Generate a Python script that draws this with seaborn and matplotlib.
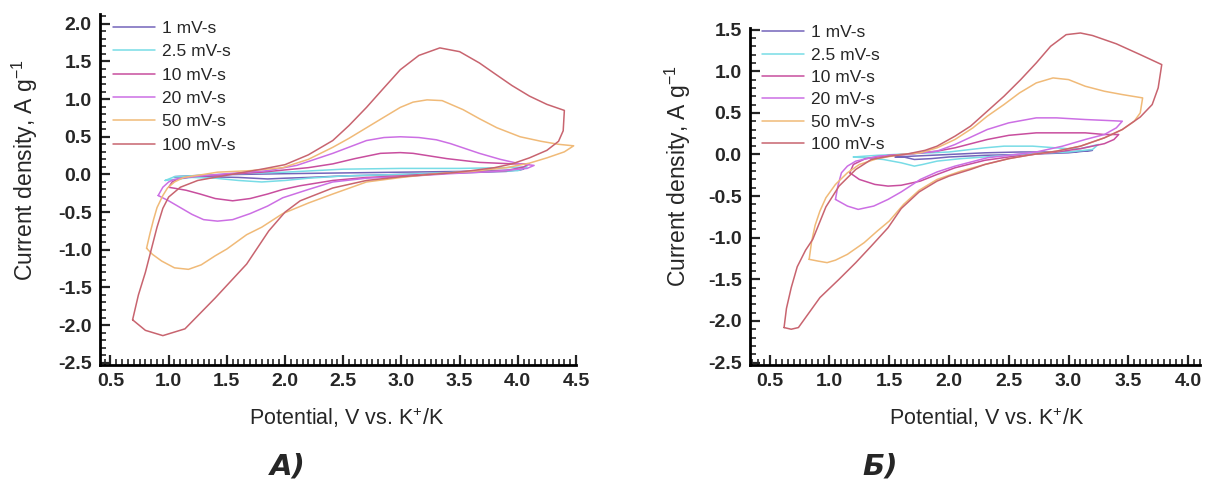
import numpy as np
import pandas as pd
import matplotlib
matplotlib.use("Agg")
import matplotlib.pyplot as plt
from matplotlib.ticker import MultipleLocator, FormatStrFormatter
import seaborn as sns

# ---------------- data ----------------
rates = ["1 mV-s", "2.5 mV-s", "10 mV-s", "20 mV-s", "50 mV-s", "100 mV-s"]
colors = ["#7464BA", "#78DCE6", "#C84E9E", "#CC6FE4", "#F0BA78", "#C8646F"]

# Panel A
A_1_x = [1.05, 1.3, 1.6, 2.0, 2.5, 3.0, 3.5, 4.0, 4.05, 3.9, 3.5, 3.0, 2.5, 2.2, 2.0, 1.85, 1.6, 1.3, 1.05]
A_1_y = [-0.03, -0.01, 0.0, 0.01, 0.02, 0.03, 0.04, 0.06, 0.07, 0.04, 0.02, 0.0, -0.02, -0.04, -0.05, -0.06, -0.04, -0.03, -0.03]
A_25_x = [0.97, 1.05, 1.3, 1.6, 2.0, 2.5, 3.0, 3.5, 3.9, 4.08, 4.0, 3.5, 3.0, 2.5, 2.2, 2.0, 1.8, 1.6, 1.4, 1.2, 0.97]
A_25_y = [-0.08, -0.03, -0.01, 0.01, 0.03, 0.07, 0.08, 0.08, 0.09, 0.1, 0.05, 0.03, 0.0, -0.02, -0.05, -0.08, -0.1, -0.08, -0.05, -0.04, -0.08]
A_10_x = [1.0, 1.03, 1.08, 1.2, 1.5, 1.8, 2.0, 2.2, 2.41, 2.6, 2.82, 2.99, 3.1, 3.39, 3.67, 3.96, 4.1,
          4.05, 3.9, 3.42, 2.99, 2.7, 2.41, 2.13, 1.98, 1.85, 1.7, 1.55, 1.4, 1.27, 1.15, 1.0]
A_10_y = [-0.17, -0.1, -0.06, -0.03, 0.0, 0.03, 0.06, 0.09, 0.14, 0.21, 0.28, 0.29, 0.28, 0.21, 0.16, 0.14, 0.14,
          0.1, 0.05, 0.02, -0.02, -0.04, -0.08, -0.15, -0.2, -0.26, -0.32, -0.35, -0.32, -0.26, -0.21, -0.17]
A_20_x = [0.91, 0.95, 1.0, 1.04, 1.15, 1.27, 1.5, 1.85, 2.1, 2.41, 2.7, 2.85, 2.99, 3.15, 3.3, 3.42, 3.67, 3.85, 4.02, 4.14,
          4.08, 3.8, 3.42, 3.0, 2.7, 2.41, 2.2, 1.98, 1.85, 1.7, 1.55, 1.42, 1.3, 1.2, 1.1, 1.0, 0.91]
A_20_y = [-0.28, -0.17, -0.1, -0.07, -0.04, -0.02, 0.01, 0.05, 0.12, 0.28, 0.45, 0.49, 0.5, 0.49, 0.46, 0.41, 0.28, 0.2, 0.14, 0.12,
          0.08, 0.04, 0.01, -0.03, -0.05, -0.1, -0.2, -0.31, -0.42, -0.52, -0.6, -0.62, -0.6, -0.53, -0.44, -0.35, -0.28]
A_50_x = [0.81, 0.84, 0.87, 0.9, 0.95, 0.99, 1.05, 1.13, 1.3, 1.42, 1.7, 1.98, 2.2, 2.41, 2.55, 2.7, 2.85, 2.99, 3.1, 3.22, 3.35,
          3.53, 3.67, 3.82, 4.02, 4.2, 4.35, 4.48,
          4.4, 4.25, 4.1, 3.9, 3.6, 3.3, 3.0, 2.7, 2.41, 2.2, 1.98, 1.8, 1.67, 1.5, 1.4, 1.28, 1.17, 1.05, 0.94, 0.86, 0.81]
A_50_y = [-0.98, -0.78, -0.6, -0.44, -0.28, -0.18, -0.1, -0.04, 0.0, 0.03, 0.05, 0.09, 0.2, 0.36, 0.48, 0.62, 0.76, 0.89, 0.96, 0.99, 0.98,
          0.86, 0.74, 0.62, 0.5, 0.44, 0.4, 0.38,
          0.3, 0.22, 0.15, 0.09, 0.04, 0.01, -0.04, -0.1, -0.26, -0.38, -0.52, -0.7, -0.8, -0.99, -1.08, -1.2, -1.26, -1.24, -1.15, -1.06, -0.98]
A_100_x = [0.69, 0.74, 0.8, 0.85, 0.9, 0.95, 1.0, 1.1, 1.25, 1.5, 1.8, 2.0, 2.2, 2.41, 2.55, 2.7, 2.85, 2.99, 3.15, 3.33, 3.5, 3.67,
           3.8, 3.95, 4.1, 4.25, 4.4,
           4.39, 4.35, 4.25, 4.1, 3.95, 3.8, 3.6, 3.42, 3.0, 2.7, 2.41, 2.13, 2.0, 1.86, 1.67, 1.4, 1.14, 0.95, 0.8, 0.69]
A_100_y = [-1.93, -1.6, -1.3, -1.0, -0.7, -0.45, -0.3, -0.17, -0.08, -0.01, 0.07, 0.13, 0.26, 0.45, 0.65, 0.89, 1.15, 1.39, 1.58, 1.68, 1.63, 1.48,
           1.34, 1.18, 1.04, 0.93, 0.85,
           0.58, 0.44, 0.32, 0.22, 0.14, 0.09, 0.05, 0.02, -0.03, -0.08, -0.18, -0.35, -0.5, -0.75, -1.19, -1.64, -2.05, -2.14, -2.07, -1.93]

# Panel B
B_1_x = [1.55, 1.7, 2.0, 2.3, 2.6, 3.0, 3.2, 3.0, 2.6, 2.3, 2.0, 1.85, 1.71, 1.62, 1.55]
B_1_y = [-0.03, -0.02, 0.0, 0.02, 0.03, 0.03, 0.05, 0.02, 0.0, -0.01, -0.03, -0.05, -0.06, -0.03, -0.03]
B_25_x = [1.2, 1.4, 1.7, 2.0, 2.3, 2.46, 2.7, 2.99, 3.1, 3.25, 3.2, 3.0, 2.7, 2.4, 2.1, 1.9, 1.78, 1.71, 1.6, 1.45, 1.3, 1.2]
B_25_y = [-0.03, -0.01, 0.01, 0.03, 0.08, 0.1, 0.1, 0.07, 0.07, 0.12, 0.06, 0.03, 0.01, -0.02, -0.05, -0.08, -0.12, -0.14, -0.1, -0.06, -0.04, -0.03]
B_10_x = [1.17, 1.2, 1.3, 1.5, 1.7, 1.9, 2.05, 2.32, 2.5, 2.73, 3.0, 3.14, 3.3, 3.42,
          3.38, 3.3, 3.1, 2.9, 2.7, 2.5, 2.3, 2.05, 1.9, 1.76, 1.6, 1.49, 1.38, 1.25, 1.17]
B_10_y = [-0.22, -0.12, -0.05, -0.01, 0.01, 0.04, 0.08, 0.18, 0.23, 0.26, 0.26, 0.26, 0.24, 0.24,
          0.18, 0.13, 0.07, 0.03, 0.0, -0.03, -0.07, -0.16, -0.24, -0.32, -0.37, -0.38, -0.36, -0.3, -0.22]
B_20_x = [1.05, 1.07, 1.1, 1.15, 1.22, 1.41, 1.63, 1.9, 2.05, 2.2, 2.32, 2.5, 2.73, 2.9, 3.14, 3.3, 3.45,
          3.4, 3.3, 3.14, 2.95, 2.73, 2.5, 2.32, 2.05, 1.9, 1.76, 1.6, 1.49, 1.37, 1.24, 1.15, 1.05]
B_20_y = [-0.54, -0.38, -0.22, -0.14, -0.08, -0.02, 0.0, 0.04, 0.12, 0.22, 0.3, 0.38, 0.44, 0.44, 0.42, 0.41, 0.4,
          0.32, 0.24, 0.18, 0.1, 0.03, -0.01, -0.04, -0.14, -0.21, -0.3, -0.45, -0.54, -0.62, -0.66, -0.62, -0.54]
B_50_x = [0.83, 0.85, 0.88, 0.92, 0.97, 1.05, 1.15, 1.25, 1.4, 1.6, 1.76, 1.9, 2.05, 2.2, 2.32, 2.46, 2.59, 2.73, 2.87, 3.0,
          3.14, 3.3, 3.45, 3.62,
          3.6, 3.55, 3.45, 3.3, 3.1, 2.9, 2.7, 2.5, 2.3, 2.1, 1.9, 1.75, 1.62, 1.5, 1.4, 1.29, 1.15, 1.05, 0.98, 0.9, 0.83]
B_50_y = [-1.26, -1.05, -0.85, -0.68, -0.52, -0.36, -0.22, -0.12, -0.05, 0.0, 0.02, 0.08, 0.18, 0.32, 0.46, 0.6, 0.74, 0.86, 0.92, 0.9,
          0.82, 0.76, 0.72, 0.68,
          0.5, 0.4, 0.3, 0.2, 0.1, 0.04, 0.0, -0.05, -0.12, -0.2, -0.3, -0.43, -0.6, -0.8, -0.92, -1.06, -1.2, -1.27, -1.3, -1.28, -1.26]
B_100_x = [0.62, 0.64, 0.68, 0.73, 0.8, 0.86, 0.97, 1.08, 1.22, 1.35, 1.5, 1.63, 1.8, 1.9, 2.05, 2.18, 2.32, 2.46, 2.6, 2.73,
           2.85, 2.98, 3.1, 3.2, 3.4, 3.6, 3.78,
           3.75, 3.7, 3.6, 3.45, 3.3, 3.1, 2.9, 2.7, 2.5, 2.3, 2.18, 2.0, 1.9, 1.75, 1.6, 1.49, 1.35, 1.22, 1.08, 0.92, 0.82, 0.74,
           0.68, 0.62]
B_100_y = [-2.08, -1.85, -1.6, -1.35, -1.15, -1.02, -0.63, -0.38, -0.18, -0.06, -0.02, 0.0, 0.05, 0.1, 0.22, 0.34, 0.52, 0.7, 0.9, 1.1,
           1.3, 1.44, 1.46, 1.43, 1.33, 1.2, 1.08,
           0.8, 0.6, 0.45, 0.3, 0.2, 0.1, 0.04, 0.0, -0.05, -0.12, -0.18, -0.26, -0.32, -0.45, -0.65, -0.88, -1.1, -1.3, -1.5, -1.72, -1.92,
           -2.08, -2.1, -2.08]

panel_A = [(A_1_x, A_1_y), (A_25_x, A_25_y), (A_10_x, A_10_y), (A_20_x, A_20_y), (A_50_x, A_50_y), (A_100_x, A_100_y)]
panel_B = [(B_1_x, B_1_y), (B_25_x, B_25_y), (B_10_x, B_10_y), (B_20_x, B_20_y), (B_50_x, B_50_y), (B_100_x, B_100_y)]


def frame(curves):
    parts = []
    for rate, (xs, ys) in zip(rates, curves):
        parts.append(pd.DataFrame({"x": xs, "y": ys, "rate": rate}))
    return pd.concat(parts, ignore_index=True)


sns.set_style("ticks")
plt.rcParams["font.family"] = ["Liberation Sans", "DejaVu Sans"]
plt.rcParams["mathtext.fontset"] = "custom"
plt.rcParams["mathtext.rm"] = "Liberation Sans"

W, H = 1208, 484
fig = plt.figure(figsize=(W / 100, H / 100), dpi=100)
axA = fig.add_axes([100 / W, 1 - 365 / H, 476 / W, 351 / H])
axB = fig.add_axes([750 / W, 1 - 365 / H, 450 / W, 337 / H])

setups = [
    # ax, curves, xlim, ylim, legend anchor px, legend spacing, caption, caption x,
    # xlabel center px, ylabel right px, ylabel center py
    (axA, panel_A, (0.41, 4.5), (-2.53, 2.13), (113, 21), 0.47, "А)", 288, 347, 40, 170),
    (axB, panel_B, (0.335, 4.1), (-2.53, 1.52), (762, 25), 0.42, "Б)", 880, 987, 693, 176),
]

for ax, curves, xl, yl, leg_px, lspace, cap, cap_x, xlab_x, ylab_x, ylab_y in setups:
    df = frame(curves)
    sns.lineplot(data=df, x="x", y="y", hue="rate", hue_order=rates, palette=colors,
                 sort=False, estimator=None, linewidth=1.1, ax=ax, legend=True)
    ax.set_xlim(*xl)
    ax.set_ylim(*yl)
    ax.xaxis.set_major_locator(MultipleLocator(0.5))
    ax.xaxis.set_minor_locator(MultipleLocator(0.05))
    ax.yaxis.set_major_locator(MultipleLocator(0.5))
    ax.yaxis.set_minor_locator(MultipleLocator(0.1))
    ax.xaxis.set_major_formatter(FormatStrFormatter("%.1f"))
    ax.yaxis.set_major_formatter(FormatStrFormatter("%.1f"))
    ax.tick_params(which="major", direction="in", length=7, width=1.6, labelsize=14, pad=6)
    ax.tick_params(which="minor", direction="in", length=4, width=1.2)
    for lab in ax.get_xticklabels() + ax.get_yticklabels():
        lab.set_fontweight("bold")
    for s in ["top", "right"]:
        ax.spines[s].set_visible(False)
    for s in ["left", "bottom"]:
        ax.spines[s].set_linewidth(2.0)
        ax.spines[s].set_color("black")

    pos = ax.get_position()
    axw, axh = pos.width * W, pos.height * H
    axl, axb = pos.x0 * W, (1 - pos.y0) * H
    ax.set_xlabel("Potential, V vs. K$^{\\mathregular{+}}$/K", fontsize=15.5)
    ax.xaxis.set_label_coords((xlab_x - axl) / axw, (axb - 405) / axh)
    ax.set_ylabel("Current density, A g$^{\\mathregular{-1}}$", fontsize=16.5)
    ax.yaxis.set_label_coords((ylab_x - axl) / axw, (axb - ylab_y) / axh)

    handles, labels = ax.get_legend_handles_labels()
    ax.legend(handles, labels, loc="upper left", bbox_to_anchor=(leg_px[0] / W, 1 - leg_px[1] / H),
              bbox_transform=fig.transFigure, frameon=False, fontsize=12.5, handlelength=2.4,
              handletextpad=0.4, labelspacing=lspace, borderpad=0, borderaxespad=0)
    fig.text(cap_x / W, 1 - 467 / H, cap, fontsize=21, fontweight="bold", style="italic",
             family=["Liberation Sans Narrow", "DejaVu Sans"], ha="center", va="center")

fig.savefig("out.png", dpi=100, facecolor="white")
